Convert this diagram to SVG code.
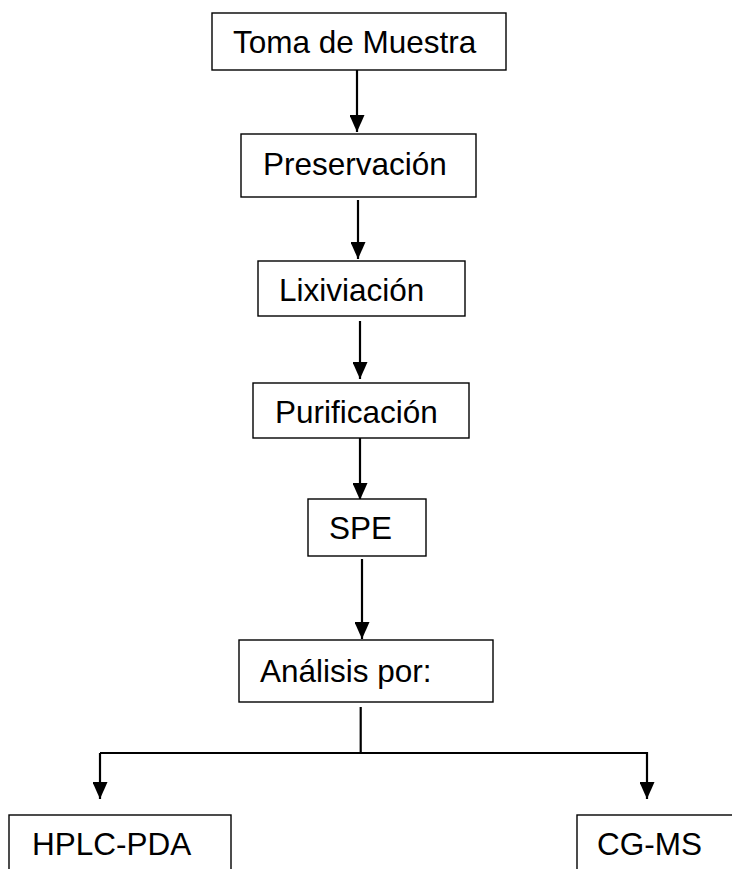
<svg xmlns="http://www.w3.org/2000/svg" width="732" height="869" viewBox="0 0 732 869">
<style>
.box{fill:#fff;stroke:#000;stroke-width:1.4}
.lbl{font-family:"Liberation Sans",Arial,sans-serif;font-size:31.5px;fill:#000}
.con{fill:none;stroke:#000;stroke-width:2.2}
</style>
<defs>
<marker id="ah" markerUnits="userSpaceOnUse" markerWidth="17" markerHeight="15" refX="17" refY="7.5" orient="auto" viewBox="0 0 17 15">
<polygon points="0,0 17,7.5 0,15" fill="#000"/>
</marker>
</defs>
<rect width="732" height="869" fill="#fff"/>
<g id="connectors">
<line class="con" x1="357" y1="70" x2="357" y2="132" marker-end="url(#ah)"/>
<line class="con" x1="358" y1="200" x2="358" y2="259" marker-end="url(#ah)"/>
<line class="con" x1="360" y1="321" x2="360" y2="379" marker-end="url(#ah)"/>
<line class="con" x1="360" y1="438" x2="360" y2="500" marker-end="url(#ah)"/>
<line class="con" x1="362" y1="559" x2="362" y2="639" marker-end="url(#ah)"/>
<polyline class="con" points="360.7,707 360.7,753"/>
<polyline class="con" points="100,753 647,753 647,799" marker-end="url(#ah)"/>
<line class="con" x1="100" y1="753" x2="100" y2="799" marker-end="url(#ah)"/>
</g>
<g id="toma">
<rect class="box" x="212" y="13" width="294" height="57"/>
<text class="lbl" x="233" y="53">Toma de Muestra</text>
</g>
<g id="preservacion">
<rect class="box" x="241" y="134" width="235" height="63"/>
<text class="lbl" x="263" y="175">Preservación</text>
</g>
<g id="lixiviacion">
<rect class="box" x="258" y="261" width="207" height="55"/>
<text class="lbl" x="279" y="301">Lixiviación</text>
</g>
<g id="purificacion">
<rect class="box" x="253" y="383" width="216" height="55"/>
<text class="lbl" x="275" y="423">Purificación</text>
</g>
<g id="spe">
<rect class="box" x="308" y="499" width="118" height="57"/>
<text class="lbl" x="329" y="539">SPE</text>
</g>
<g id="analisis">
<rect class="box" x="239" y="640" width="254" height="62"/>
<text class="lbl" x="260" y="682">Análisis por:</text>
</g>
<g id="hplc">
<rect class="box" x="9" y="815" width="222" height="70"/>
<text class="lbl" x="32" y="855">HPLC-PDA</text>
</g>
<g id="cgms">
<rect class="box" x="577" y="815" width="170" height="70"/>
<text class="lbl" x="597" y="855">CG-MS</text>
</g>
</svg>
